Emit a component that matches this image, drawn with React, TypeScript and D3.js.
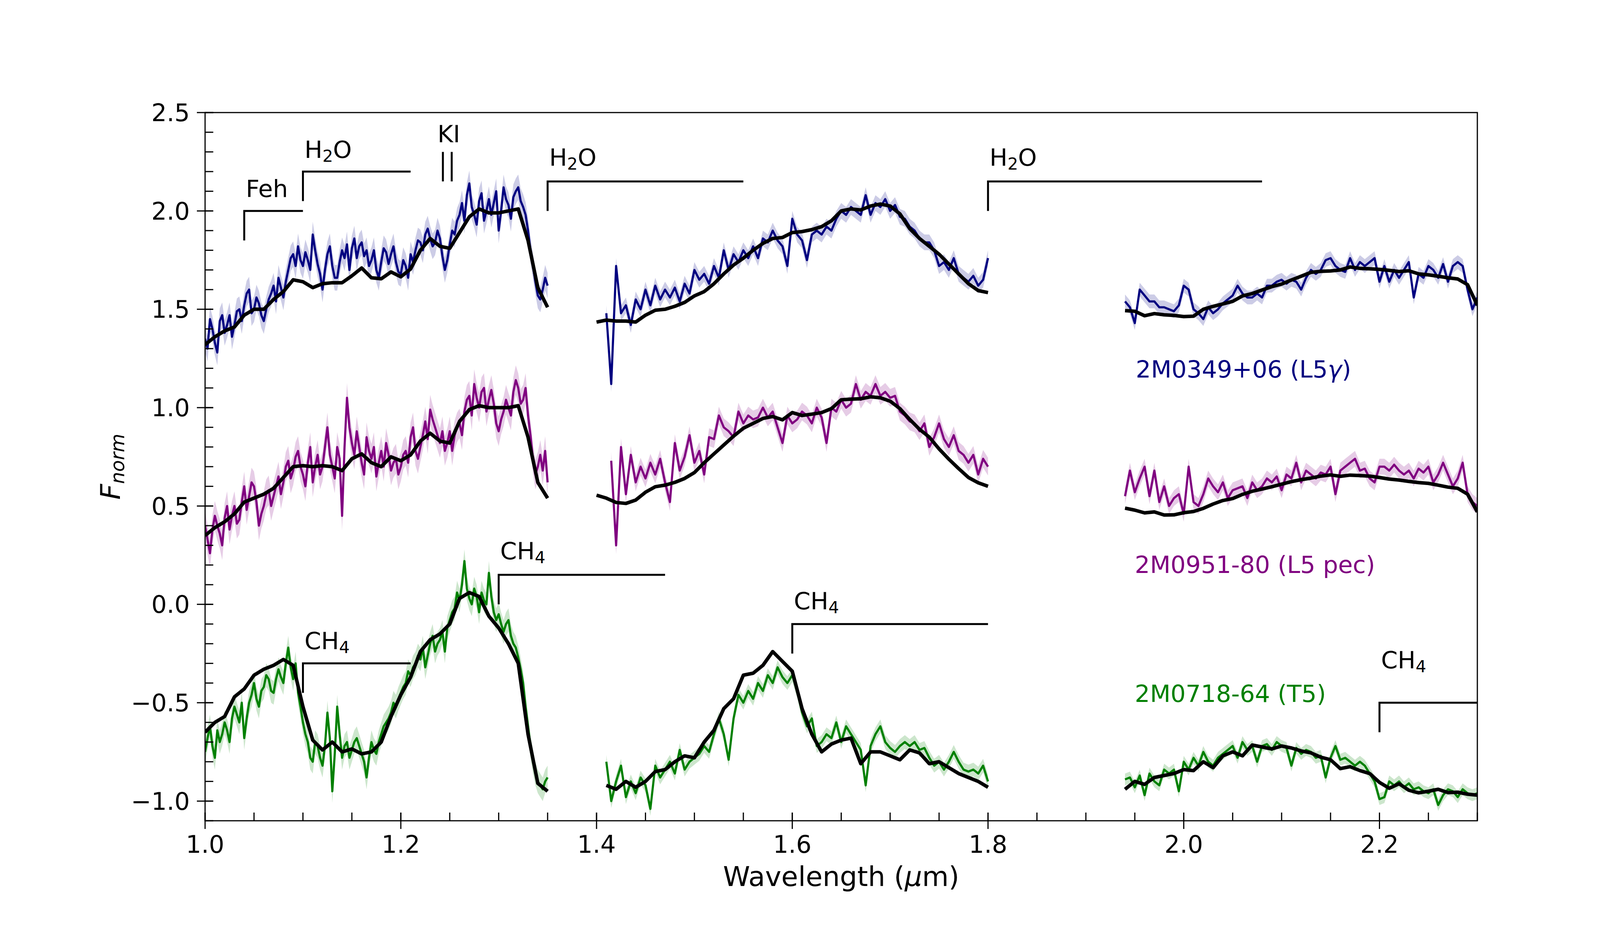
import * as d3 from "d3"

// ---- data ------------------------------------------------------------------------
// observed spectra: J window sampled every 0.0025 micron, H and K every 0.005
// models sampled every MODEL_STEP micron
const OBS_STEPS = [0.0025, 0.005, 0.005]
const MODEL_STEP = 0.01

// 2M0349+06 (L5 gamma), offset +1
const blueObsJ = [
  1.35, 1.3, 1.45, 1.4, 1.33, 1.28, 1.44, 1.47, 1.38, 1.42, 1.47, 1.36, 1.42, 1.49, 1.5, 1.44, 1.52, 1.58, 1.6, 1.48,
  1.5, 1.56, 1.53, 1.47, 1.44, 1.5, 1.55, 1.58, 1.62, 1.54, 1.66, 1.61, 1.56, 1.64, 1.7, 1.76, 1.78, 1.72, 1.82, 1.75,
  1.72, 1.79, 1.75, 1.7, 1.88, 1.8, 1.73, 1.68, 1.6, 1.7, 1.78, 1.82, 1.72, 1.66, 1.66, 1.74, 1.8, 1.76, 1.83, 1.7,
  1.81, 1.86, 1.76, 1.82, 1.84, 1.77, 1.8, 1.72, 1.75, 1.8, 1.7, 1.66, 1.74, 1.81, 1.79, 1.73, 1.78, 1.82, 1.74, 1.69,
  1.68, 1.75, 1.72, 1.66, 1.78, 1.74, 1.8, 1.85, 1.84, 1.8, 1.88, 1.91, 1.86, 1.82, 1.84, 1.9, 1.86, 1.77, 1.7, 1.75,
  1.83, 1.9, 1.88, 1.95, 1.98, 2.04, 1.95, 2.08, 2.14, 2.02, 1.98, 1.93, 2.05, 2.09, 1.95, 2.0, 2.06, 1.98, 2.04, 2.1,
  1.9, 2.0, 2.12, 2.06, 2.03, 1.96, 2.07, 2.1, 2.12, 2.05, 2.02, 1.98, 1.9, 1.8, 1.72, 1.64, 1.57, 1.55, 1.6, 1.66,
  1.62,
]
const blueObsH = [1.48, 1.12, 1.72, 1.48, 1.52, 1.42, 1.55, 1.5, 1.6, 1.52, 1.62, 1.55, 1.6, 1.56, 1.61, 1.54, 1.63, 1.58, 1.7, 1.65, 1.68, 1.63, 1.72, 1.66, 1.8, 1.7, 1.78, 1.74, 1.8, 1.76, 1.82, 1.76, 1.86, 1.84, 1.9, 1.85, 1.82, 1.72, 1.96, 1.88, 1.85, 1.75, 1.88, 1.9, 1.88, 1.92, 1.9, 1.96, 2.0, 1.98, 2.02, 2.0, 1.98, 2.08, 1.98, 2.04, 2.02, 2.06, 2.0, 2.03, 1.97, 1.96, 1.92, 1.9, 1.86, 1.84, 1.84, 1.8, 1.72, 1.74, 1.7, 1.76, 1.68, 1.66, 1.64, 1.67, 1.62, 1.65, 1.76]
const blueObsK = [1.54, 1.51, 1.43, 1.6, 1.57, 1.54, 1.54, 1.51, 1.51, 1.5, 1.49, 1.52, 1.62, 1.6, 1.5, 1.48, 1.45, 1.51, 1.48, 1.5, 1.53, 1.55, 1.57, 1.62, 1.58, 1.56, 1.56, 1.58, 1.56, 1.62, 1.62, 1.64, 1.65, 1.63, 1.65, 1.64, 1.6, 1.66, 1.7, 1.68, 1.7, 1.75, 1.76, 1.72, 1.7, 1.69, 1.76, 1.7, 1.74, 1.72, 1.74, 1.76, 1.64, 1.72, 1.64, 1.7, 1.66, 1.7, 1.74, 1.56, 1.68, 1.66, 1.72, 1.7, 1.66, 1.73, 1.64, 1.72, 1.74, 1.72, 1.6, 1.5, 1.56]
const blueModelJ = [1.32, 1.36, 1.39, 1.41, 1.47, 1.5, 1.5, 1.55, 1.59, 1.65, 1.64, 1.61, 1.63, 1.635, 1.635, 1.67, 1.71, 1.66, 1.655, 1.69, 1.665, 1.705, 1.8, 1.86, 1.82, 1.81, 1.89, 1.97, 2.01, 1.99, 1.99, 2.0, 2.01, 1.85, 1.61, 1.51]
const blueModelH = [1.435, 1.445, 1.44, 1.44, 1.435, 1.47, 1.495, 1.5, 1.515, 1.535, 1.568, 1.59, 1.63, 1.68, 1.725, 1.76, 1.8, 1.835, 1.86, 1.865, 1.89, 1.895, 1.905, 1.92, 1.95, 2.0, 2.01, 2.005, 2.025, 2.035, 2.025, 1.985, 1.91, 1.86, 1.82, 1.78, 1.73, 1.68, 1.63, 1.595, 1.585]
const blueModelK = [1.493, 1.49, 1.467, 1.478, 1.472, 1.469, 1.463, 1.465, 1.5, 1.515, 1.527, 1.54, 1.568, 1.58, 1.598, 1.615, 1.628, 1.649, 1.668, 1.688, 1.693, 1.695, 1.7, 1.715, 1.708, 1.706, 1.703, 1.698, 1.692, 1.696, 1.68, 1.675, 1.668, 1.66, 1.654, 1.625, 1.52]
const blueErr = [0.065, 0.04, 0.035]

// 2M0951-80 (L5 pec), no offset
const purpleObsJ = [
  0.4, 0.33, 0.26, 0.38, 0.45, 0.4, 0.36, 0.3, 0.44, 0.5, 0.38, 0.45, 0.5, 0.41, 0.43, 0.52, 0.6, 0.48, 0.55, 0.62,
  0.6, 0.52, 0.4, 0.46, 0.5, 0.56, 0.58, 0.5, 0.55, 0.6, 0.65, 0.56, 0.62, 0.7, 0.73, 0.64, 0.68, 0.75, 0.78, 0.7,
  0.66, 0.6, 0.72, 0.8, 0.62, 0.7, 0.76, 0.66, 0.7, 0.8, 0.9, 0.76, 0.7, 0.64, 0.8, 0.74, 0.45, 0.8, 1.05, 0.9,
  0.82, 0.76, 0.88, 0.8, 0.72, 0.66, 0.85, 0.78, 0.74, 0.8, 0.65, 0.72, 0.78, 0.7, 0.82, 0.76, 0.68, 0.72, 0.74, 0.66,
  0.7, 0.76, 0.78, 0.72, 0.85, 0.9, 0.78, 0.74, 0.8, 0.86, 0.93, 0.84, 0.99, 0.94, 0.9, 0.86, 0.82, 0.88, 0.78, 0.82,
  0.88, 0.78, 0.86, 0.9, 0.92, 0.86, 0.98, 1.04, 1.06, 0.96, 1.12, 1.05, 1.0, 1.08, 1.1, 0.98, 1.04, 1.09, 1.02, 0.92,
  0.88, 0.94, 0.98, 1.04, 1.0, 0.96, 1.08, 1.14, 1.1, 1.02, 1.04, 1.1, 0.96, 0.86, 0.74, 0.66, 0.7, 0.76, 0.68, 0.78,
  0.62,
]
const purpleObsH = [0.73, 0.3, 0.8, 0.56, 0.76, 0.62, 0.7, 0.64, 0.72, 0.66, 0.74, 0.62, 0.52, 0.82, 0.68, 0.75, 0.86, 0.72, 0.78, 0.66, 0.85, 0.84, 0.96, 0.9, 0.88, 0.85, 0.98, 0.92, 0.96, 0.94, 0.95, 1.0, 0.95, 0.98, 0.9, 0.82, 0.96, 0.92, 0.94, 0.98, 0.96, 0.92, 1.0, 0.95, 0.82, 1.0, 0.98, 1.04, 1.0, 1.02, 1.12, 1.04, 1.08, 1.06, 1.12, 1.06, 1.08, 1.05, 1.06, 0.98, 0.96, 0.93, 0.92, 0.88, 0.92, 0.8, 0.85, 0.92, 0.84, 0.8, 0.86, 0.78, 0.76, 0.72, 0.76, 0.66, 0.74, 0.7]
const purpleObsK = [0.55, 0.68, 0.57, 0.64, 0.7, 0.55, 0.68, 0.52, 0.6, 0.5, 0.54, 0.56, 0.46, 0.7, 0.52, 0.5, 0.56, 0.64, 0.6, 0.57, 0.62, 0.54, 0.58, 0.59, 0.6, 0.54, 0.62, 0.58, 0.6, 0.64, 0.62, 0.65, 0.58, 0.66, 0.64, 0.72, 0.62, 0.68, 0.66, 0.64, 0.67, 0.66, 0.7, 0.56, 0.68, 0.7, 0.72, 0.74, 0.68, 0.69, 0.64, 0.62, 0.7, 0.7, 0.68, 0.71, 0.68, 0.66, 0.68, 0.64, 0.69, 0.67, 0.7, 0.62, 0.66, 0.72, 0.66, 0.6, 0.64, 0.72, 0.56, 0.52, 0.5]
const purpleModelJ = [0.35, 0.39, 0.42, 0.46, 0.52, 0.54, 0.56, 0.59, 0.645, 0.7, 0.705, 0.7, 0.705, 0.7, 0.68, 0.74, 0.765, 0.72, 0.7, 0.75, 0.73, 0.76, 0.83, 0.87, 0.83, 0.82, 0.93, 0.99, 1.01, 1.0, 1.0, 1.0, 1.01, 0.85, 0.62, 0.54]
const purpleModelH = [0.555, 0.54, 0.518, 0.513, 0.53, 0.57, 0.598, 0.606, 0.62, 0.64, 0.67, 0.72, 0.765, 0.81, 0.855, 0.895, 0.92, 0.945, 0.955, 0.938, 0.975, 0.96, 0.967, 0.975, 0.995, 1.04, 1.043, 1.045, 1.055, 1.05, 1.033, 0.995, 0.94, 0.89, 0.85, 0.79, 0.738, 0.69, 0.645, 0.618, 0.6]
const purpleModelK = [0.489, 0.479, 0.465, 0.47, 0.454, 0.455, 0.466, 0.472, 0.488, 0.51, 0.528, 0.538, 0.559, 0.575, 0.586, 0.598, 0.611, 0.624, 0.634, 0.642, 0.652, 0.658, 0.651, 0.657, 0.655, 0.652, 0.645, 0.637, 0.632, 0.625, 0.619, 0.615, 0.606, 0.596, 0.59, 0.56, 0.47]
const purpleErr = [0.075, 0.045, 0.04]

// 2M0718-64 (T5), offset -1
const greenObsJ = [
  -0.75, -0.68, -0.62, -0.72, -0.78, -0.64, -0.7, -0.66, -0.6, -0.64, -0.7, -0.58, -0.52, -0.56, -0.6, -0.5, -0.68, -0.58, -0.5, -0.46,
  -0.4, -0.48, -0.52, -0.44, -0.42, -0.36, -0.38, -0.44, -0.45, -0.38, -0.33, -0.37, -0.4, -0.3, -0.22, -0.32, -0.38, -0.3, -0.45, -0.52,
  -0.6, -0.66, -0.7, -0.78, -0.8, -0.7, -0.72, -0.78, -0.82, -0.72, -0.55, -0.68, -0.95, -0.76, -0.52, -0.66, -0.78, -0.72, -0.7, -0.78,
  -0.74, -0.7, -0.68, -0.72, -0.76, -0.8, -0.88, -0.78, -0.7, -0.74, -0.76, -0.7, -0.66, -0.62, -0.6, -0.58, -0.55, -0.5, -0.52, -0.48,
  -0.45, -0.42, -0.4, -0.34, -0.36, -0.32, -0.3, -0.26, -0.28, -0.22, -0.32, -0.26, -0.2, -0.16, -0.24, -0.2, -0.18, -0.14, -0.24, -0.12,
  -0.08, -0.04, -0.02, 0.06, 0.02, 0.1, 0.22, 0.08, 0.03, 0.0, 0.08, 0.04, -0.04, 0.06, 0.02, 0.0, 0.16, 0.04, -0.04, -0.08,
  -0.05, -0.1, -0.14, -0.1, -0.08, -0.16, -0.2, -0.22, -0.27, -0.33, -0.4, -0.52, -0.62, -0.72, -0.8, -0.86, -0.9, -0.92, -0.94, -0.9,
  -0.88,
]
const greenObsH = [-0.8, -1.0, -0.9, -0.82, -0.98, -0.9, -0.96, -0.88, -0.92, -1.04, -0.82, -0.88, -0.84, -0.8, -0.86, -0.74, -0.84, -0.8, -0.78, -0.76, -0.72, -0.75, -0.66, -0.58, -0.66, -0.79, -0.58, -0.46, -0.5, -0.44, -0.48, -0.4, -0.44, -0.36, -0.4, -0.32, -0.37, -0.4, -0.36, -0.44, -0.55, -0.62, -0.58, -0.72, -0.7, -0.66, -0.68, -0.6, -0.7, -0.62, -0.66, -0.7, -0.74, -0.92, -0.72, -0.66, -0.62, -0.7, -0.73, -0.75, -0.72, -0.7, -0.72, -0.7, -0.74, -0.73, -0.78, -0.82, -0.8, -0.84, -0.8, -0.75, -0.8, -0.84, -0.85, -0.84, -0.86, -0.82, -0.9]
const greenObsK = [-0.89, -0.88, -0.93, -0.87, -0.97, -0.86, -0.9, -0.92, -0.84, -0.86, -0.84, -0.95, -0.8, -0.84, -0.78, -0.82, -0.75, -0.8, -0.82, -0.78, -0.76, -0.74, -0.72, -0.78, -0.7, -0.74, -0.72, -0.8, -0.72, -0.71, -0.74, -0.7, -0.72, -0.73, -0.82, -0.73, -0.76, -0.74, -0.75, -0.78, -0.77, -0.88, -0.78, -0.72, -0.79, -0.78, -0.8, -0.82, -0.8, -0.82, -0.86, -0.9, -0.99, -0.98, -0.9, -0.92, -0.9, -0.93, -0.91, -0.94, -0.93, -0.95, -0.96, -0.94, -1.02, -0.97, -0.94, -0.95, -0.98, -0.94, -0.96, -0.97, -0.96]
const greenModelJ = [-0.65, -0.6, -0.57, -0.47, -0.43, -0.36, -0.33, -0.31, -0.28, -0.31, -0.52, -0.69, -0.74, -0.7, -0.75, -0.735, -0.76, -0.75, -0.7, -0.57, -0.46, -0.37, -0.24, -0.18, -0.15, -0.1, 0.03, 0.06, 0.04, -0.06, -0.12, -0.2, -0.3, -0.66, -0.91, -0.95]
const greenModelH = [-0.92, -0.94, -0.9, -0.93, -0.9, -0.85, -0.84, -0.8, -0.77, -0.78, -0.7, -0.64, -0.53, -0.48, -0.36, -0.35, -0.31, -0.24, -0.29, -0.34, -0.53, -0.66, -0.75, -0.71, -0.69, -0.68, -0.81, -0.75, -0.75, -0.77, -0.79, -0.74, -0.755, -0.81, -0.8, -0.83, -0.86, -0.88, -0.9, -0.93]
const greenModelK = [-0.94, -0.9, -0.915, -0.88, -0.87, -0.86, -0.84, -0.845, -0.8, -0.83, -0.77, -0.75, -0.77, -0.715, -0.725, -0.735, -0.72, -0.73, -0.745, -0.755, -0.777, -0.79, -0.835, -0.825, -0.845, -0.86, -0.905, -0.935, -0.912, -0.945, -0.958, -0.95, -0.94, -0.957, -0.955, -0.965, -0.97]
const greenErr = [0.06, 0.035, 0.03]

// first wavelength of each piece (J, H, K windows)
const obsStarts = { blue: [1.0, 1.41, 1.94], purple: [1.0, 1.415, 1.94], green: [1.0, 1.41, 1.94] }
const modelStarts = { blue: [1.0, 1.4, 1.94], purple: [1.0, 1.4, 1.94], green: [1.0, 1.41, 1.94] }

const labels = ["2M0349+06 (L5", "2M0951-80 (L5 pec)", "2M0718-64 (T5)"]
const labelY = [1.153, 0.159, -0.496]

// absorption band markers
const bandName = [["Feh", ""], ["H", "2", "O"], ["H", "2", "O"], ["H", "2", "O"], ["CH", "4"], ["CH", "4"], ["CH", "4"], ["CH", "4"]]
const bandStart = [1.04, 1.1, 1.35, 1.8, 1.1, 1.3, 1.6, 2.2]
const bandEnd = [1.1, 1.21, 1.55, 2.08, 1.21, 1.47, 1.8, 2.3]
const bandLevel = [2.0, 2.2, 2.15, 2.15, -0.3, 0.15, -0.1, -0.5]
const bandTextY = [2.07, 2.27, 2.23, 2.23, -0.227, 0.23, -0.025, -0.325]
const kiLines = [1.243, 1.252]

const xTicks = [1.0, 1.2, 1.4, 1.6, 1.8, 2.0, 2.2]
const xTickLabels = ["1.0", "1.2", "1.4", "1.6", "1.8", "2.0", "2.2"]
const yTicks = [-1.0, -0.5, 0.0, 0.5, 1.0, 1.5, 2.0, 2.5]
const yTickLabels = ["\u22121.0", "\u22120.5", "0.0", "0.5", "1.0", "1.5", "2.0", "2.5"]

// ---- layout -------------------------------------------------------------------------
const W = 4200
const H = 2400
const left = 525
const right = 3782
const top = 288
const bottom = 2100
const FONT = "DejaVu Sans"
const NAVY = "#000080"
const PURPLE = "#800080"
const GREEN = "#008000"

const x = d3.scaleLinear().domain([1.0, 2.3]).range([left, right])
const y = d3.scaleLinear().domain([-1.1, 2.5]).range([bottom, top])

type Pt = { w: number; f: number }

function toPoints(values: number[], start: number, step: number): Pt[] {
  return values.map((f, i) => ({ w: start + i * step, f }))
}

const line = d3
  .line<Pt>()
  .x((d) => x(d.w))
  .y((d) => y(d.f))

function Spectrum({ color, obs, models, starts, mStarts, err }: any) {
  return (
    <g>
      {obs.map((vals: number[], k: number) => {
        const pts = toPoints(vals, starts[k], OBS_STEPS[k])
        const band = d3
          .area<Pt>()
          .x((d) => x(d.w))
          .y0((d) => y(d.f - err[k]))
          .y1((d) => y(d.f + err[k]))
        return (
          <g key={"o" + k}>
            <path d={band(pts) || ""} fill={color} fillOpacity={0.2} stroke="none" />
            <path d={line(pts) || ""} fill="none" stroke={color} strokeWidth={5.5} strokeLinejoin="round" />
          </g>
        )
      })}
      {models.map((vals: number[], k: number) => (
        <path
          key={"m" + k}
          d={line(toPoints(vals, mStarts[k], MODEL_STEP)) || ""}
          fill="none"
          stroke="#000"
          strokeWidth={9}
          strokeLinejoin="round"
        />
      ))}
    </g>
  )
}

export default function App() {
  const minorX = d3.range(1.0, 2.3001, 0.05)
  const minorY = d3.range(-1.1, 2.5001, 0.1)
  const fs = 61

  return (
    <div style={{ position: "absolute", left: 0, top: 0 }}>
      <svg width={W} height={H} style={{ display: "block", background: "#fff" }} fontFamily={FONT}>
        <defs>
          <clipPath id="plot">
            <rect x={left} y={top} width={right - left} height={bottom - top} />
          </clipPath>
        </defs>

        <g clipPath="url(#plot)">
          <Spectrum color={NAVY} obs={[blueObsJ, blueObsH, blueObsK]} models={[blueModelJ, blueModelH, blueModelK]} starts={obsStarts.blue} mStarts={modelStarts.blue} err={blueErr} />
          <Spectrum color={PURPLE} obs={[purpleObsJ, purpleObsH, purpleObsK]} models={[purpleModelJ, purpleModelH, purpleModelK]} starts={obsStarts.purple} mStarts={modelStarts.purple} err={purpleErr} />
          <Spectrum color={GREEN} obs={[greenObsJ, greenObsH, greenObsK]} models={[greenModelJ, greenModelH, greenModelK]} starts={obsStarts.green} mStarts={modelStarts.green} err={greenErr} />

          {/* band markers */}
          {bandStart.map((s, i) => (
            <path
              key={"b" + i}
              d={`M${x(s)},${y(bandLevel[i] - 0.15)}V${y(bandLevel[i])}H${x(bandEnd[i])}`}
              fill="none"
              stroke="#000"
              strokeWidth={5}
            />
          ))}
          {kiLines.map((k) => (
            <line key={k} x1={x(k)} x2={x(k)} y1={y(2.15)} y2={y(2.3)} stroke="#000" strokeWidth={5} />
          ))}
        </g>

        {bandName.map((n, i) => (
          <text key={"t" + i} x={x(bandStart[i]) + 4} y={y(bandTextY[i])} fontSize={fs}>
            {n[0]}
            {n[1] ? (
              <tspan fontSize={fs * 0.7} dy={10}>
                {n[1]}
              </tspan>
            ) : null}
            {n[2] ? <tspan dy={-10}>{n[2]}</tspan> : null}
          </text>
        ))}
        <text x={x(1.2375)} y={y(2.35)} fontSize={fs}>
          KI
        </text>

        {/* series labels */}
        <text x={x(1.951)} y={y(labelY[0])} fontSize={fs} fill={NAVY}>
          {labels[0]}
          <tspan fontStyle="italic">γ</tspan>)
        </text>
        <text x={x(1.95)} y={y(labelY[1])} fontSize={fs} fill={PURPLE}>
          {labels[1]}
        </text>
        <text x={x(1.95)} y={y(labelY[2])} fontSize={fs} fill={GREEN}>
          {labels[2]}
        </text>

        {/* frame */}
        <rect x={left} y={top} width={right - left} height={bottom - top} fill="none" stroke="#000" strokeWidth={3} />

        {/* x ticks */}
        {minorX.map((v) => (
          <line key={"mx" + v} x1={x(v)} x2={x(v)} y1={bottom} y2={bottom - 21} stroke="#000" strokeWidth={3} />
        ))}
        {xTicks.map((v, i) => (
          <g key={"x" + v}>
            <line x1={x(v)} x2={x(v)} y1={bottom - 21} y2={bottom + 21} stroke="#000" strokeWidth={3} />
            <text x={x(v)} y={2182} fontSize={62} textAnchor="middle">
              {xTickLabels[i]}
            </text>
          </g>
        ))}

        {/* y ticks */}
        {minorY.map((v) => (
          <line key={"my" + v} x1={left} x2={left + 21} y1={y(v)} y2={y(v)} stroke="#000" strokeWidth={3} />
        ))}
        {yTicks.map((v, i) => (
          <g key={"y" + v}>
            <line x1={left - 21} x2={left + 21} y1={y(v)} y2={y(v)} stroke="#000" strokeWidth={3} />
            <text x={486} y={y(v) + 22} fontSize={62} textAnchor="end">
              {yTickLabels[i]}
            </text>
          </g>
        ))}

        {/* axis labels */}
        <text x={(left + right) / 2} y={2267} fontSize={70} textAnchor="middle">
          Wavelength (<tspan fontStyle="italic">μ</tspan>m)
        </text>
        <text transform={`translate(307,${(top + bottom) / 2}) rotate(-90)`} fontSize={70} fontStyle="italic" textAnchor="middle">
          F
          <tspan fontSize={49} dy={11}>
            norm
          </tspan>
        </text>
      </svg>
    </div>
  )
}
